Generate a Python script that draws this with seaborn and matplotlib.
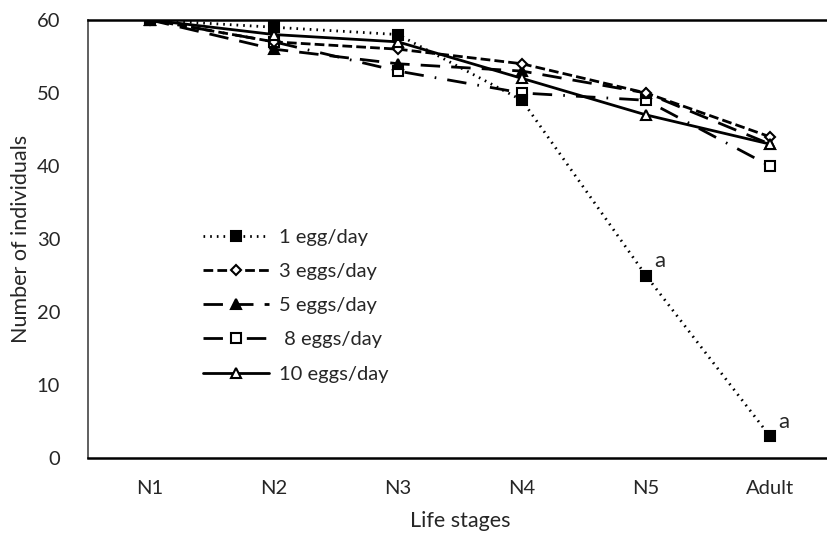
import matplotlib
matplotlib.use("Agg")
import matplotlib.pyplot as plt
import seaborn as sns
import pandas as pd

sns.set_style("white")
plt.rcParams['font.family'] = ['Lato', 'DejaVu Sans']

# --- dados ---
stages = ["N1", "N2", "N3", "N4", "N5", "Adult"]
egg1 = [60, 59, 58, 49, 25, 3]
egg3 = [60, 57, 56, 54, 50, 44]
egg5 = [60, 56, 54, 53, 50, 43]
egg8 = [60, 57, 53, 50, 49, 40]
egg10 = [60, 58, 57, 52, 47, 43]
labels = ["1 egg/day", "3 eggs/day", "5 eggs/day", " 8 eggs/day", "10 eggs/day"]

series = [egg1, egg3, egg5, egg8, egg10]
styles = [
    dict(marker="s", mfc="black", dashes=(0.6, 1.8)),
    dict(marker="D", mfc="white", dashes=(3.5, 1.5), ms=5.5),
    dict(marker="^", mfc="black", dashes=(7, 4)),
    dict(marker="s", mfc="white", dashes=(7, 4, 0.6, 4)),
    dict(marker="^", mfc="white", dashes=()),
]
order = [3, 2, 1, 4, 0]

fig = plt.figure(figsize=(8.27, 5.39), dpi=100)
ax = fig.add_axes([0.1064, 0.150, 0.8996, 0.813])

handles = {}
for i in order:
    df = pd.DataFrame({"stage": stages, "n": series[i]})
    st = dict(styles[i])
    ms = st.pop("ms", 6.5)
    dashes = st.pop("dashes")
    sns.lineplot(data=df, x="stage", y="n", ax=ax, sort=False, color="black",
                 linewidth=2, markersize=ms, markeredgecolor="black",
                 markeredgewidth=1.5, label=labels[i], **st)
    line = ax.get_lines()[-1]
    if dashes:
        line.set_dashes(dashes)
    handles[i] = line

ax.legend([handles[i] for i in range(5)], labels, loc="upper left",
          bbox_to_anchor=(0.13, 0.565), frameon=False, fontsize=14.5,
          handlelength=3.3, labelspacing=0.85, handletextpad=0.5)

# letras de significância
ax.annotate("a", (4, egg1[4]), xytext=(6, 6), textcoords="offset points", fontsize=16)
ax.annotate("a", (5, egg1[5]), xytext=(6, 6), textcoords="offset points", fontsize=16)

ax.set_xlim(-0.5, 5.5)
ax.set_ylim(0, 60)
ax.set_yticks(range(0, 61, 10))
ax.set_xlabel("Life stages", fontsize=15.5, labelpad=10)
ax.set_ylabel("Number of individuals", fontsize=15.5, labelpad=4)
ax.tick_params(axis="both", length=0, labelsize=14.5, pad=16)
ax.tick_params(axis="y", pad=20)
for side in ["top", "bottom"]:
    ax.spines[side].set_color("black")
    ax.spines[side].set_linewidth(1.8)
ax.spines["left"].set_color("#444444")
ax.spines["left"].set_linewidth(1.2)
ax.spines["right"].set_visible(False)

fig.savefig("out.png", dpi=100)
